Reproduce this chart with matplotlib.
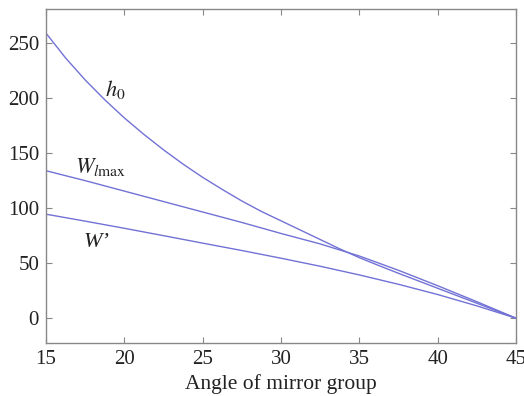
import numpy as np
import matplotlib
matplotlib.use('Agg')
import matplotlib.pyplot as plt

plt.rcParams['font.family'] = 'Liberation Serif'
plt.rcParams['mathtext.fontset'] = 'stix'

# values
angle_h0 = [15, 16.25, 17.5, 18.75, 20, 21.25, 22.5, 23.75, 25, 26.25, 27.5, 28.75, 30,
            31.25, 32.5, 33.75, 35, 36.25, 37.5, 38.75, 40, 41.25, 42.5, 43.75, 45]
h0 = [259, 236.5, 216.5, 198.5, 182, 167, 153, 140, 128, 117, 106.5, 97, 88.5,
      80, 71.5, 63, 55, 47.8, 40.8, 34, 27.2, 20.4, 13.6, 6.8, 0]

angle = [15, 17.5, 20, 22.5, 25, 27.5, 30, 32.5, 35, 37.5, 40, 42.5, 45]
w_lmax = [134, 125, 115.5, 106, 96.5, 87, 77, 67.5, 56.5, 43.5, 29.5, 15, 0]
w_prime = [94.5, 88.2, 81.7, 75, 68.2, 61.5, 54.5, 47.2, 39.3, 30.8, 21.5, 11.2, 0]

xticks = [15, 20, 25, 30, 35, 40, 45]
yticks = [0, 50, 100, 150, 200, 250]

fig = plt.figure(figsize=(5.24, 3.96), dpi=100)
ax = fig.add_axes([0.0878, 0.1326, 0.8969, 0.8447])

line_color = '#7272d6'
ax.plot(angle_h0, h0, color=line_color, lw=1.0)
ax.plot(angle, w_lmax, color=line_color, lw=1.0)
ax.plot(angle, w_prime, color=line_color, lw=1.0)

ax.text(19.4, 208, r'$h_0$', fontsize=16, ha='center', va='center', color='#222222')
ax.text(18.5, 137, r'$W_{l\mathrm{max}}$', fontsize=16, ha='center', va='center', color='#222222')
ax.text(18.2, 69, 'W\u2019', fontsize=16, fontstyle='italic', ha='center', va='center',
        color='#222222')

ax.set_xlim(15, 45)
ax.set_ylim(-23, 281)
ax.set_xticks(xticks)
ax.set_yticks(yticks)
ax.tick_params(direction='in', top=True, right=True, length=4, width=0.8,
               color='#888888', labelsize=15, labelcolor='#222222', pad=5)
for s in ax.spines.values():
    s.set_color('#888888')
    s.set_linewidth(1.0)

ax.set_xlabel('Angle of mirror group', fontsize=15.5, color='#222222', labelpad=3)

fig.savefig('out.png', dpi=100)
